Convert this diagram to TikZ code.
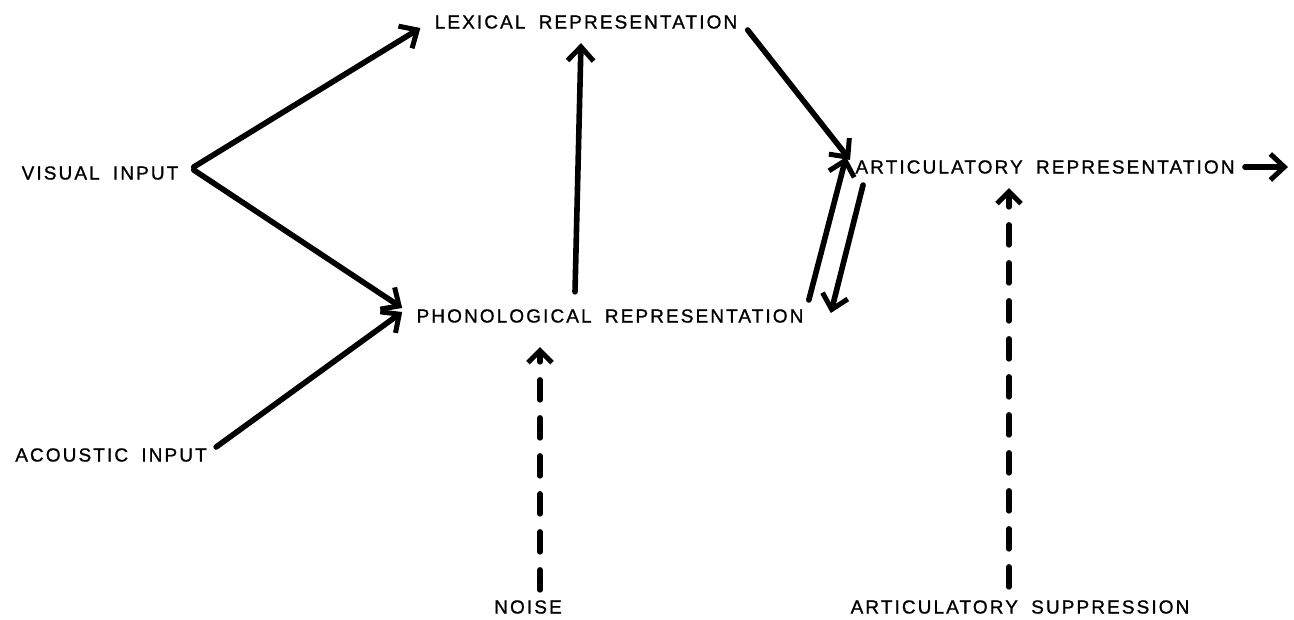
\documentclass[tikz,border=0pt]{standalone}
\usepackage{fontspec}
\setmainfont{Liberation Sans}[LetterSpace=11,FakeBold=1,WordSpace=1.8]
\usetikzlibrary{arrows.meta}
\tikzset{
  lbl/.style={inner sep=0pt, font=\fontsize{9.5}{11}\selectfont},
  arr/.style={line width=2.8pt, line cap=round, -{Straight Barb[length=7pt,width=13pt,line width=2.5pt]}},
  darr/.style={line width=2.8pt, line cap=round, dash pattern=on 10pt off 9pt, -{Straight Barb[length=6pt,width=12pt,line width=2.5pt]}}
}
\begin{document}
\begin{tikzpicture}[x=0.5pt,y=-0.5pt]
\useasboundingbox (0,0) rectangle (1294,620);
\node[lbl] (lex) at (586,22) {LEXICAL REPRESENTATION};
\node[lbl] (vis) at (100,173) {VISUAL INPUT};
\node[lbl] (art) at (1045,167) {ARTICULATORY REPRESENTATION};
\node[lbl] (phon) at (610,316) {PHONOLOGICAL REPRESENTATION};
\node[lbl] (aco) at (111,455) {ACOUSTIC INPUT};
\node[lbl] (noise) at (528,607) {NOISE};
\node[lbl] (sup) at (1020,607) {ARTICULATORY SUPPRESSION};
\coordinate (out) at (1288,167);
% connectors
\draw[arr] ([shift={(15,-6)}]vis.east) -- ([shift={(-14,6)}]lex.west);
\draw[arr] ([shift={(15,-3)}]vis.east) -- ([shift={(-14,-8)}]phon.west);
\draw[arr] ([shift={(9,-8)}]aco.east) -- ([shift={(-14,-4)}]phon.west);
\draw[arr] ([shift={(-35,-17)}]phon.north) -- ([shift={(-5,14)}]lex.south);
\draw[arr] ([shift={(10,8)}]lex.east) -- ([shift={(-5,-7)}]art.west);
\draw[arr] ([shift={(5,-16)}]phon.east) -- ([shift={(-9,-10)}]art.west);
\draw[arr] ([shift={(8,18)}]art.west) -- ([shift={(27,-3)}]phon.east);
\draw[arr] ([xshift=5]art.east) -- (out);
\draw[darr] ([shift={(12,-10)}]noise.north) -- ([shift={(-70,24)}]phon.south);
\draw[darr] ([shift={(-11,-13)}]sup.north) -- ([shift={(-36,14)}]art.south);
\end{tikzpicture}
\end{document}
